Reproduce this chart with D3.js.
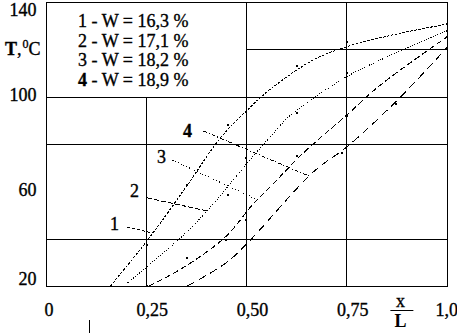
<!DOCTYPE html>
<html>
<head>
<meta charset="utf-8">
<script src="https://cdn.jsdelivr.net/npm/d3@7"></script>
<style>
  body { margin: 0; background: #fff; }
</style>
</head>
<body>
<div id="chart"></div>
<script>
// Temperature profiles T(x/L) for four moisture contents W

const xTicks = [0, 0.25, 0.5, 0.75, 1.0]
const xTickLabels = ['0', '0,25', '0,50', '0,75', '1,0']
const yTicks = [20, 60, 100, 140]
const legendLabels = ['1 - W = 16,3 %', '2 - W = 17,1 %', '3 - W = 18,2 %', '4 - W = 18,9 %']
const curveNames = ['1', '2', '3', '4']

// curve points [x/L, T]
const curve1 = [[0.162, 20], [0.257, 39.9], [0.354, 62.7], [0.436, 82.5], [0.494, 92.8], [0.561, 103.2], [0.668, 115.5], [0.751, 121.1], [0.885, 126.8], [1.0, 130.6]]
const curve2 = [[0.195, 20], [0.349, 42.3], [0.416, 54.2], [0.499, 71.1], [0.561, 83.1], [0.611, 92.2], [0.751, 108.4], [0.835, 115.5], [1.0, 127.7]]
const curve3 = [[0.258, 20], [0.341, 27.5], [0.449, 40.8], [0.519, 54.9], [0.565, 62.7], [0.643, 76.2], [0.751, 92.2], [0.835, 104.9], [1.0, 125.1]]
const curve4 = [[0.354, 20], [0.449, 29.6], [0.504, 38.2], [0.668, 68.2], [0.751, 78.7], [0.878, 98.6], [1.0, 120.5]]

// measured points [x/L, T]
const points1 = [[0.254, 37.3], [0.354, 62.7], [0.456, 88.0], [0.628, 113.0], [0.751, 123.0], [1.0, 130.6]]
const points2 = [[0.456, 58.4], [0.499, 74.0], [0.628, 93.2], [0.751, 110.0], [1.0, 127.7]]
const points3 = [[0.254, 20], [0.354, 31.8], [0.451, 39.4], [0.628, 75.0], [0.751, 91.8], [1.0, 125.1]]
const points4 = [[0.499, 47.9], [0.74, 76.3], [0.873, 96.9], [1.0, 120.5]]

// curve labels [x/L, T] and their leader lines
const labelPos = [[0.172, 43.7], [0.222, 57.6], [0.289, 72.0], [0.354, 83.0]]
const leaders = [
  [[0.204, 44.9], [0.267, 42.4]],
  [[0.254, 57.2], [0.404, 51.7]],
  [[0.317, 73.2], [0.524, 56.8]],
  [[0.394, 85.5], [0.663, 66.0]]
]

// grid
const vGrid = [{x: 0.25, t0: 20, t1: 100}, {x: 0.5, t0: 20, t1: 140}, {x: 0.75, t0: 20, t1: 140}]
const hGrid = [{t: 40, x0: 0, x1: 1}, {t: 80, x0: 0, x1: 1}, {t: 100, x0: 0, x1: 1}, {t: 120, x0: 0.5, x1: 1}]

const curves = [curve1, curve2, curve3, curve4]
const points = [points1, points2, points3, points4]
const dashes = ['2.5,1.5', '1,1.5', '6,3', '8,5']
const leaderDashes = ['3,2', '5,2', '1,2', '4,2,1,2']

const width = 457
const height = 333
const font = '"Liberation Serif", "Times New Roman", serif'
const fs = 18

const xScale = d3.scaleLinear().domain([0, 1]).range([45.5, 446.5])
const yScale = d3.scaleLinear().domain([20, 140]).range([286, 2])
const px = v => Math.round(xScale(v)) + 0.5
const py = v => Math.round(yScale(v)) + 0.5

const svg = d3.select('#chart')
  .append('svg')
  .attr('width', width)
  .attr('height', height)
  .style('font-family', font)

// Frame and grid
svg.append('rect')
  .attr('x', px(0)).attr('y', py(140))
  .attr('width', px(1) - px(0)).attr('height', py(20) - py(140))
  .attr('fill', 'none').attr('stroke', '#000')

svg.append('g').selectAll('line')
  .data(vGrid)
  .join('line')
  .attr('x1', d => px(d.x)).attr('x2', d => px(d.x))
  .attr('y1', d => py(d.t0)).attr('y2', d => py(d.t1))
  .attr('stroke', '#000')

svg.append('g').selectAll('line')
  .data(hGrid)
  .join('line')
  .attr('x1', d => px(d.x0)).attr('x2', d => px(d.x1))
  .attr('y1', d => py(d.t)).attr('y2', d => py(d.t))
  .attr('stroke', '#000')

// text is drawn slightly heavier, like the scanned original
const heavy = sel => sel.attr('stroke', '#000').attr('stroke-width', 0.35)

// Axes (labels only)
const yAxis = svg.append('g')
  .attr('transform', `translate(${xScale(0)},0)`)
  .call(d3.axisLeft(yScale).tickValues(yTicks).tickSize(0).tickPadding(9))
yAxis.select('.domain').remove()
yAxis.attr('font-size', fs).attr('font-family', font)
yAxis.selectAll('text')
  .attr('fill', '#000')
  .attr('y', d => {
    const c = Math.min(Math.max(yScale(d) - 1.5, 10), 278.5)
    return c - yScale(d)
  })
  .call(heavy)

const xAxis = svg.append('g')
  .attr('transform', `translate(0,${yScale(20)})`)
  .call(d3.axisBottom(xScale).tickValues(xTicks).tickFormat((d, i) => xTickLabels[i]).tickSize(0).tickPadding(17))
xAxis.select('.domain').remove()
xAxis.attr('font-size', fs).attr('font-family', font)
xAxis.selectAll('text')
  .attr('fill', '#000')
  .attr('text-anchor', (d, i) => i === xTicks.length - 1 ? 'end' : 'middle')
  .attr('dx', (d, i) => i === 0 ? 3 : i === xTicks.length - 1 ? 11 : 6)
  .call(heavy)

// Axis titles
const yTitle = svg.append('text')
  .attr('x', 5).attr('y', 55)
  .attr('font-size', fs)
  .call(heavy)
yTitle.append('tspan').attr('font-weight', 'bold').text('T')
yTitle.append('tspan').text(',')
yTitle.append('tspan').attr('font-size', 12).attr('dy', -7).attr('dx', 1).text('0')
yTitle.append('tspan').attr('dy', 7).text('C')

const xt = xScale(0.885)
svg.append('text')
  .attr('x', xt).attr('y', 307)
  .attr('text-anchor', 'middle').attr('font-size', fs)
  .call(heavy)
  .text('x')
svg.append('line')
  .attr('x1', xt - 10).attr('x2', xt + 13)
  .attr('y1', 310.5).attr('y2', 310.5)
  .attr('stroke', '#000')
svg.append('text')
  .attr('x', xt).attr('y', 327)
  .attr('text-anchor', 'middle').attr('font-size', fs).attr('font-weight', 'bold')
  .text('L')

// stray mark below the axis
svg.append('line')
  .attr('x1', px(0.108)).attr('x2', px(0.108))
  .attr('y1', 320).attr('y2', 333)
  .attr('stroke', '#000')

// Legend
const legend = svg.append('g').attr('font-size', fs).call(heavy)
legendLabels.forEach((l, i) => {
  const t = legend.append('text')
    .attr('x', 78).attr('y', 27 + i * 19.7)
  const parts = l.split(' - ')
  t.append('tspan').attr('font-weight', i === 3 ? 'bold' : null).text(parts[0])
  t.append('tspan').text(' - ' + parts[1])
})

// Curves
const line = d3.line()
  .curve(d3.curveCatmullRom.alpha(0.5))
  .x(d => xScale(d[0]))
  .y(d => yScale(d[1]))

svg.append('g').selectAll('path')
  .data(curves)
  .join('path')
  .attr('d', d => line(d))
  .attr('fill', 'none')
  .attr('stroke', '#000')
  .attr('stroke-width', 1)
  .attr('shape-rendering', 'crispEdges')
  .attr('stroke-dasharray', (d, i) => dashes[i])

// Measured points
svg.append('g').selectAll('rect')
  .data(points.flat())
  .join('rect')
  .attr('x', d => Math.round(xScale(d[0])) - 1)
  .attr('y', d => Math.round(yScale(d[1])) - 1)
  .attr('width', 2).attr('height', 2)
  .attr('fill', '#000')

// Leaders and curve labels
svg.append('g').selectAll('path')
  .data(leaders)
  .join('path')
  .attr('d', d => d3.line().x(p => xScale(p[0])).y(p => yScale(p[1]))(d))
  .attr('fill', 'none')
  .attr('stroke', '#000')
  .attr('shape-rendering', 'crispEdges')
  .attr('stroke-dasharray', (d, i) => leaderDashes[i])

svg.append('g').selectAll('text')
  .data(labelPos)
  .join('text')
  .attr('x', d => xScale(d[0]))
  .attr('y', d => yScale(d[1]))
  .attr('text-anchor', 'middle')
  .attr('font-size', fs)
  .attr('font-weight', (d, i) => i === 3 ? 'bold' : null)
  .call(heavy)
  .text((d, i) => curveNames[i])
</script>
</body>
</html>
